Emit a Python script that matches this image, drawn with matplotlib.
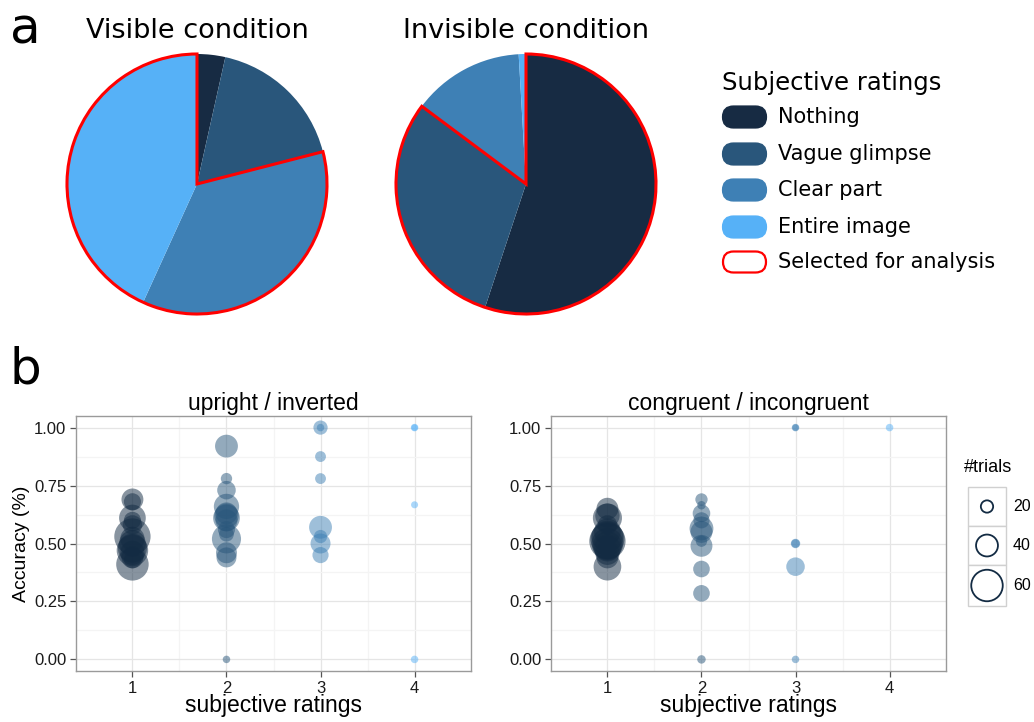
import matplotlib
matplotlib.use("Agg")
import matplotlib.pyplot as plt
from matplotlib.patches import Wedge, FancyBboxPatch, Rectangle
import numpy as np

# ---------------- data ----------------
categories = ["Nothing", "Vague glimpse", "Clear part", "Entire image"]
cat_colors = ["#172B43", "#29567B", "#3E80B5", "#56B1F7"]
visible_share = [3.5, 17.5, 35.8, 43.2]
invisible_share = [55.1, 30.1, 13.9, 0.9]
visible_selected = [2, 3]
invisible_selected = [0, 1]

# panel b: (rating, accuracy, trials)
upright_rating = [1]*14 + [2]*14 + [3]*8 + [4]*4
upright_acc = [0.69, 0.68, 0.61, 0.60, 0.58, 0.53, 0.52, 0.50, 0.48, 0.47, 0.46, 0.44, 0.43, 0.41,
               0.92, 0.78, 0.73, 0.66, 0.63, 0.62, 0.61, 0.60, 0.56, 0.54, 0.52, 0.46, 0.44, 0.00,
               1.00, 1.00, 0.875, 0.78, 0.57, 0.53, 0.50, 0.45,
               1.00, 1.00, 0.667, 0.00]
upright_trials = [40, 30, 50, 30, 35, 70, 45, 50, 55, 60, 45, 40, 30, 62,
                  42, 18, 33, 47, 40, 45, 50, 40, 30, 25, 55, 38, 36, 10,
                  24, 10, 17, 17, 42, 22, 36, 28,
                  10, 8, 9, 10]

congr_rating = [1]*14 + [2]*11 + [3]*6 + [4]*1
congr_acc = [0.65, 0.62, 0.61, 0.58, 0.55, 0.53, 0.52, 0.51, 0.50, 0.49, 0.48, 0.46, 0.44, 0.40,
             0.69, 0.665, 0.63, 0.60, 0.565, 0.55, 0.51, 0.49, 0.39, 0.285, 0.00,
             1.00, 1.00, 0.50, 0.50, 0.40, 0.00,
             1.00]
congr_trials = [40, 45, 55, 35, 50, 60, 65, 70, 60, 55, 50, 45, 40, 52,
                20, 12, 31, 28, 44, 40, 18, 40, 29, 29, 12,
                10, 8, 14, 12, 33, 10,
                10]

rating_ticks = [1, 2, 3, 4]
acc_ticks = [0.0, 0.25, 0.5, 0.75, 1.0]
acc_ticklabels = ["0.00", "0.25", "0.50", "0.75", "1.00"]
size_breaks = [20, 40, 60]

W, H = 1034, 722
fig = plt.figure(figsize=(W/100, H/100), dpi=100)

def px_axes(l, t, w, h):
    return fig.add_axes([l/W, 1-(t+h)/H, w/W, h/H])

# ---------------- panel a ----------------
def draw_pie(cx, shares, selected, title):
    r = 130
    half = r*1.02
    ax = px_axes(cx-half, 184-half, 2*half, 2*half)
    wedges, _ = ax.pie(shares, colors=cat_colors, startangle=90, counterclock=False,
                       wedgeprops=dict(linewidth=0, edgecolor="none"), radius=1)
    th1 = min(wedges[i].theta1 for i in selected)
    th2 = max(wedges[i].theta2 for i in selected)
    ax.add_patch(Wedge((0, 0), 1, th1, th2, fill=False, edgecolor="#FF0000",
                       linewidth=2.2, joinstyle="miter", zorder=5))
    ax.set_xlim(-1.02, 1.02)
    ax.set_ylim(-1.02, 1.02)
    ax.set_aspect("equal")
    ax.axis("off")
    fig.text(cx/W, 1-31/H, title, ha="center", va="center", fontsize=19.5,
             family="DejaVu Sans")

draw_pie(197, visible_share, visible_selected, "Visible condition")
draw_pie(526, invisible_share, invisible_selected, "Invisible condition")

fig.text(10/W, 1-29/H, "a", fontsize=36, va="center", ha="left", family="DejaVu Sans")
fig.text(10/W, 1-369/H, "b", fontsize=36, va="center", ha="left", family="DejaVu Sans")

# legend for panel a
lax = fig.add_axes([0, 0, 1, 1], facecolor="none")
lax.set_xlim(0, W)
lax.set_ylim(H, 0)
lax.axis("off")
lax.text(722, 83, "Subjective ratings", fontsize=17.5, va="center", ha="left",
         family="DejaVu Sans")
ys = [117, 154, 190, 227, 262]
labels = categories + ["Selected for analysis"]
for i, (y, lab) in enumerate(zip(ys, labels)):
    if i < 4:
        fc, ec = cat_colors[i], cat_colors[i]
    else:
        fc, ec = "white", "#FF0000"
    lax.add_patch(FancyBboxPatch((723, y-10.5), 43, 21,
                                 boxstyle="round,pad=0,rounding_size=10.5",
                                 facecolor=fc, edgecolor=ec, linewidth=1.6))
    lax.text(778, y, lab, fontsize=15, va="center", ha="left", family="DejaVu Sans")

# ---------------- panel b ----------------
def dia_px(n):
    return 2.7 + 0.48*np.asarray(n, dtype=float)

def msize(n):
    return (dia_px(n)*0.72)**2

rating_colors = {1: "#132B43", 2: "#29567B", 3: "#3E80B5", 4: "#56B1F7"}
bfont = ["Liberation Sans", "DejaVu Sans"]

def draw_scatter(left, rating, acc, trials, title):
    ax = px_axes(left, 416, 395, 255)
    cols = [rating_colors[r] for r in rating]
    order = np.argsort(-np.asarray(trials))
    ax.scatter(np.asarray(rating)[order], np.asarray(acc)[order],
               s=msize(np.asarray(trials)[order]),
               c=[cols[i] for i in order], alpha=0.5, linewidths=0, zorder=3)
    ax.set_xlim(0.4, 4.6)
    ax.set_ylim(-0.05, 1.05)
    ax.set_xticks(rating_ticks)
    ax.set_xticklabels([str(t) for t in rating_ticks])
    ax.set_yticks(acc_ticks)
    ax.set_yticklabels(acc_ticklabels)
    ax.set_yticks([0.125, 0.375, 0.625, 0.875], minor=True)
    ax.set_xticks([1.5, 2.5, 3.5], minor=True)
    ax.grid(True, which="major", color="#E5E5E5", linewidth=0.9, zorder=0)
    ax.grid(True, which="minor", color="#F4F4F4", linewidth=0.9, zorder=0)
    ax.set_axisbelow(True)
    ax.tick_params(which="minor", length=0)
    ax.tick_params(which="major", length=4, color="#555555", width=0.9,
                   labelsize=12, labelcolor="#1A1A1A", pad=3)
    for lab in ax.get_xticklabels() + ax.get_yticklabels():
        lab.set_family(bfont)
    for sp in ax.spines.values():
        sp.set_color("#9A9A9A")
        sp.set_linewidth(1.0)
    ax.set_title(title, fontsize=16.5, family=bfont, pad=4)
    ax.set_xlabel("subjective ratings", fontsize=16.5, family=bfont, labelpad=-1)
    return ax

ax1 = draw_scatter(76, upright_rating, upright_acc, upright_trials, "upright / inverted")
ax1.set_ylabel("Accuracy (%)", fontsize=14, family=bfont, labelpad=3)
ax2 = draw_scatter(551, congr_rating, congr_acc, congr_trials, "congruent / incongruent")

# size legend
lax.text(964, 468, "#trials", fontsize=13, va="center", ha="left", family=bfont)
key_tops = [487, 526, 565]
key_h = [39, 39, 41]
for top, h, n in zip(key_tops, key_h, size_breaks):
    lax.add_patch(Rectangle((968, top), 38, h, facecolor="white",
                            edgecolor="#D0D0D0", linewidth=1.0))
    lax.text(1013, top + h/2, str(n), fontsize=11.5, va="center", ha="left", family=bfont)
lax.scatter([987]*3, [t + h/2 for t, h in zip(key_tops, key_h)], s=msize(size_breaks),
            facecolors="none", edgecolors="#132B43", linewidths=1.3, zorder=4)

fig.savefig("out.png", dpi=100)
